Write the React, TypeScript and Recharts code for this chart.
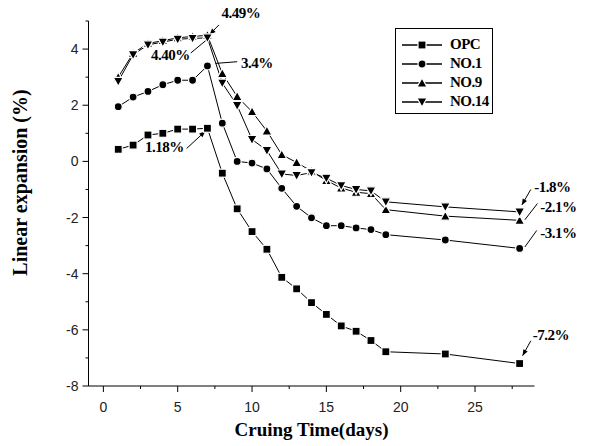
import React from "react";
import {
  LineChart,
  Line,
  XAxis,
  YAxis,
  ReferenceLine,
  ReferenceDot,
  Legend,
} from "recharts";

// curing days (shared by all series)
const days = [1, 2, 3, 4, 5, 6, 7, 8, 9, 10, 11, 12, 13, 14, 15, 16, 17, 18, 19, 23, 28];

// linear expansion (%)
const opc = [0.43, 0.58, 0.94, 1.0, 1.15, 1.15, 1.18, -0.42, -1.69, -2.5, -3.13, -4.13, -4.54, -5.03, -5.45, -5.86, -6.05, -6.38, -6.78, -6.86, -7.2];
const no1 = [1.95, 2.29, 2.49, 2.73, 2.89, 2.89, 3.4, 1.36, 0.0, -0.06, -0.27, -0.96, -1.6, -2.01, -2.29, -2.29, -2.37, -2.43, -2.61, -2.8, -3.1];
const no9 = [3.0, 3.85, 4.2, 4.3, 4.4, 4.45, 4.49, 3.13, 2.31, 1.77, 1.08, 0.24, -0.04, -0.35, -0.68, -0.95, -1.1, -1.15, -1.72, -1.95, -2.1];
const no14 = [2.85, 3.8, 4.15, 4.25, 4.35, 4.38, 4.4, 2.79, 1.99, 0.78, 0.39, -0.45, -0.5, -0.4, -0.6, -0.86, -1.0, -1.05, -1.44, -1.62, -1.8];

const xTicks = [0, 2.5, 5, 7.5, 10, 12.5, 15, 17.5, 20, 22.5, 25, 27.5];
const yTicks = [-8, -7, -6, -5, -4, -3, -2, -1, 0, 1, 2, 3, 4, 5];

// annotation text anchors (data coords) and leader lines
const notes = [
  { text: "4.49%", x: 9.25, y: 5.3, from: [7.77, 4.86], to: [7.15, 4.52], arrow: true },
  { text: "4.40%", x: 4.5, y: 3.79, from: [5.88, 3.86], to: [6.95, 4.33], arrow: false },
  { text: "3.4%", x: 10.32, y: 3.5, from: [7.55, 3.49], to: [9.0, 3.55], arrow: false },
  { text: "1.18%", x: 4.1, y: 0.5, from: [5.6, 0.46], to: [6.85, 1.07], arrow: true },
  { text: "-1.8%", x: 30.2, y: -0.93, from: [28.75, -1.0], to: [28.15, -1.55], arrow: true },
  { text: "-2.1%", x: 30.6, y: -1.64, from: [29.2, -1.5], to: [28.35, -2.08], arrow: false },
  { text: "-3.1%", x: 30.6, y: -2.54, from: [29.15, -2.46], to: [28.35, -3.05], arrow: false },
  { text: "-7.2%", x: 30.1, y: -6.18, from: [28.75, -6.39], to: [28.2, -6.92], arrow: true },
];

const rows = days.map((d, i) => ({ day: d, opc: opc[i], no1: no1[i], no9: no9[i], no14: no14[i] }));

const serif = "'Liberation Serif', 'Times New Roman', serif";
const sans = "'Liberation Sans', Arial, sans-serif";

type Shape = "square" | "circle" | "up" | "down";

function Marker({ cx, cy, shape }: { cx: number; cy: number; shape: Shape }) {
  const p = { fill: "#000", stroke: "#fff", strokeWidth: 1.2 };
  if (shape === "square") return <rect x={cx - 4} y={cy - 4} width={8} height={8} {...p} />;
  if (shape === "circle") return <circle cx={cx} cy={cy} r={4} {...p} />;
  if (shape === "up")
    return <polygon points={`${cx - 5},${cy + 4} ${cx + 5},${cy + 4} ${cx},${cy - 5}`} {...p} />;
  return <polygon points={`${cx - 5},${cy - 4} ${cx + 5},${cy - 4} ${cx},${cy + 5}`} {...p} />;
}

const series: { key: string; name: string; shape: Shape }[] = [
  { key: "opc", name: "OPC", shape: "square" },
  { key: "no1", name: "NO.1", shape: "circle" },
  { key: "no9", name: "NO.9", shape: "up" },
  { key: "no14", name: "NO.14", shape: "down" },
];

const XTick = (props: any) => {
  const { x, y, payload } = props;
  const major = payload.value % 5 === 0;
  return (
    <g>
      <line x1={x} x2={x} y1={y} y2={y + (major ? 6 : 3)} stroke="#000" />
      {major && (
        <text x={x} y={y + 26} textAnchor="middle" fontFamily={sans} fontSize={14} fill="#222">
          {payload.value}
        </text>
      )}
    </g>
  );
};

const YTick = (props: any) => {
  const { x, y, payload } = props;
  const major = payload.value % 2 === 0;
  return (
    <g>
      <line x1={x - (major ? 6 : 3)} x2={x} y1={y} y2={y} stroke="#000" />
      {major && (
        <text x={x - 10} y={y + 5} textAnchor="end" fontFamily={sans} fontSize={14} fill="#222">
          {payload.value}
        </text>
      )}
    </g>
  );
};

const LegendBox = () => (
  <div
    style={{
      border: "1px solid #000",
      width: 98,
      height: 86,
      boxSizing: "border-box",
      background: "#fff",
      paddingTop: 6,
    }}
  >
    {series.map((s) => (
      <div key={s.key} style={{ display: "flex", alignItems: "center", height: 19 }}>
        <svg width={54} height={14}>
          <line x1={6} x2={46} y1={7} y2={7} stroke="#000" strokeWidth={1.4} />
          <Marker cx={26} cy={7} shape={s.shape} />
        </svg>
        <span style={{ fontFamily: serif, fontWeight: "bold", fontSize: 15, letterSpacing: -0.5 }}>
          {s.name}
        </span>
      </div>
    ))}
  </div>
);

function Leader(props: any) {
  const { x1, y1, x2, y2, arrow } = props;
  if ([x1, y1, x2, y2].some((v) => typeof v !== "number")) return null;
  const a = Math.atan2(y2 - y1, x2 - x1);
  const L = 6;
  const W = 2.5;
  const bx = x2 - L * Math.cos(a);
  const by = y2 - L * Math.sin(a);
  const pts = `${x2},${y2} ${bx - W * Math.sin(a)},${by + W * Math.cos(a)} ${bx + W * Math.sin(a)},${by - W * Math.cos(a)}`;
  return (
    <g>
      <line x1={x1} y1={y1} x2={x2} y2={y2} stroke="#000" strokeWidth={1} />
      {arrow && <polygon points={pts} fill="#000" />}
    </g>
  );
}

export default function App() {
  return (
    <div style={{ position: "absolute", left: 0, top: 0, background: "#fff" }}>
      <LineChart
        width={590}
        height={446}
        data={rows}
        margin={{ top: 21, right: 55.5, bottom: 30, left: 28.5 }}
      >
        <XAxis
          type="number"
          dataKey="day"
          domain={[-1, 29]}
          ticks={xTicks}
          interval={0}
          allowDataOverflow
          height={30}
          stroke="#000"
          tickSize={0}
          tickMargin={0}
          tickLine={false}
          tick={<XTick />}
          label={{
            value: "Cruing Time(days)",
            position: "insideBottom",
            offset: -20,
            style: { fontFamily: serif, fontWeight: "bold", fontSize: 19, fill: "#000" },
          }}
        />
        <YAxis
          type="number"
          domain={[-8, 5]}
          ticks={yTicks}
          interval={0}
          allowDataOverflow
          width={60}
          stroke="#000"
          tickSize={0}
          tickMargin={0}
          tickLine={false}
          tick={<YTick />}
          label={(p: any) => {
            const vb = p.viewBox || { x: 28.5, y: 21, width: 60, height: 365 };
            const cx = vb.x - 2;
            const cy = vb.y + vb.height / 2 - 21;
            return (
              <text
                x={cx}
                y={cy}
                transform={`rotate(-90 ${cx} ${cy})`}
                textAnchor="middle"
                fontFamily={serif}
                fontWeight="bold"
                fontSize={20}
                fill="#000"
              >
                Linear expansion (%)
              </text>
            );
          }}
        />
        {series.map((s) => (
          <Line
            key={s.key}
            dataKey={s.key}
            name={s.name}
            stroke="#000"
            strokeWidth={1}
            isAnimationActive={false}
            dot={(p: any) => <Marker key={`${s.key}-${p.index}`} cx={p.cx} cy={p.cy} shape={s.shape} />}
            activeDot={false}
          />
        ))}
        {notes.map((n) => (
          <ReferenceLine
            key={`l-${n.text}`}
            segment={[
              { x: n.from[0], y: n.from[1] },
              { x: n.to[0], y: n.to[1] },
            ]}
            ifOverflow="visible"
            shape={(p: any) => <Leader {...p} arrow={n.arrow} />}
          />
        ))}
        {notes.map((n) => (
          <ReferenceDot
            key={`t-${n.text}`}
            x={n.x}
            y={n.y}
            r={0}
            ifOverflow="visible"
            shape={(p: any) => (
              <text
                x={p.cx}
                y={p.cy + 5}
                textAnchor="middle"
                fontFamily={serif}
                fontWeight="bold"
                fontSize={15}
                letterSpacing={-0.5}
                fill="#000"
              >
                {n.text}
              </text>
            )}
          />
        ))}
        <Legend
          layout="vertical"
          align="center"
          verticalAlign="middle"
          content={<LegendBox />}
          wrapperStyle={{ left: 395, top: 28, width: 98, height: 86 }}
        />
      </LineChart>
    </div>
  );
}
